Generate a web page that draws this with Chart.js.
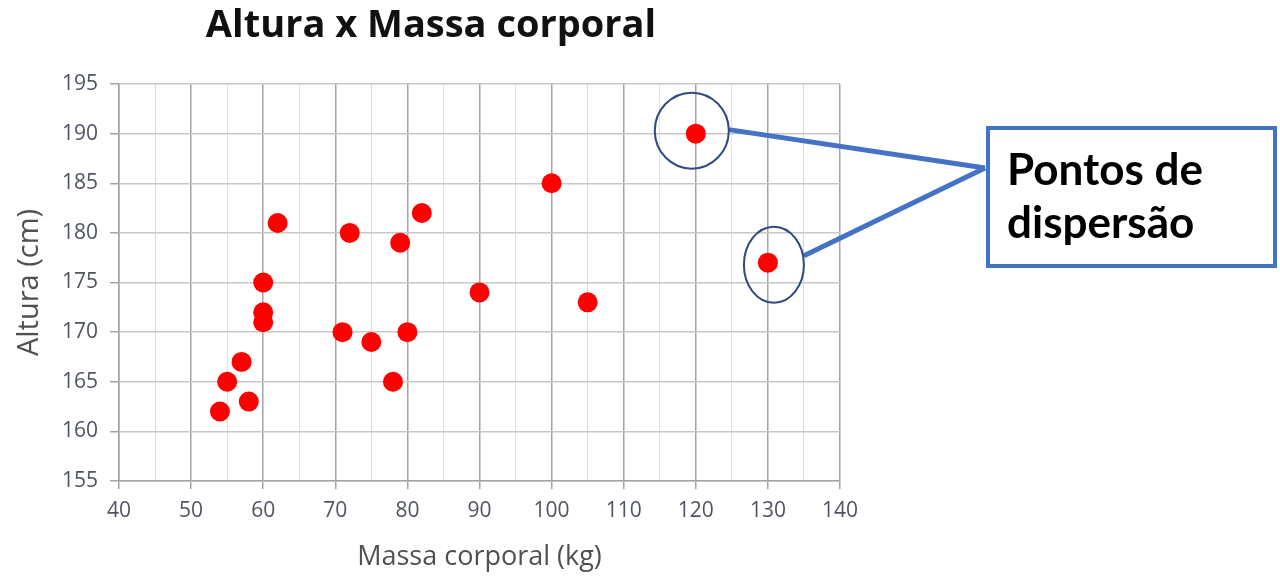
<!DOCTYPE html>
<html>
<head>
<meta charset="utf-8">
<script src="https://cdn.jsdelivr.net/npm/chart.js@4.4.1/dist/chart.umd.min.js"></script>
<style>
  html, body { margin: 0; padding: 0; background: #fff; }
  #wrap { width: 1280px; height: 578px; position: relative; }
</style>
</head>
<body>
<div id="wrap"><canvas id="scatter"></canvas></div>
<script>
// massa corporal (kg) e altura (cm)
const massa = [54, 55, 57, 58, 60, 60, 60, 62, 71, 72, 75, 78, 79, 80, 82, 90, 100, 105, 120, 130];
const altura = [162, 165, 167, 163, 171, 172, 175, 181, 170, 180, 169, 165, 179, 170, 182, 174, 185, 173, 190, 177];
const xTicks = [40, 50, 60, 70, 80, 90, 100, 110, 120, 130, 140];
const yTicks = [155, 160, 165, 170, 175, 180, 185, 190, 195];
// pontos destacados na anotação
const destaque = [18, 19];
const chartTitle = "Altura x Massa corporal";
const boxText = ["Pontos de", "dispersão"];

const points = massa.map((m, i) => ({ x: m, y: altura[i] }));

const vGridColor = ctx => {
    const v = ctx.tick ? ctx.tick.value : 0;
    if (v % 10 === 0) return "#a4a4a4";
    if (v % 30 === 15) return "#f2d0d0";
    return "#e2e2e2";
};

const annotation = {
    id: "annotation",
    afterDraw(chart) {
        const ctx = chart.ctx;
        const xs = chart.scales.x, ys = chart.scales.y;
        ctx.save();

        // título
        ctx.fillStyle = "#111";
        ctx.font = "bold 38px 'Open Sans'";
        ctx.textAlign = "center";
        ctx.textBaseline = "alphabetic";
        ctx.fillText(chartTitle, 431, 37);

        // caixa de texto
        const bx = 988, by = 128, bw = 287, bh = 138;
        const ax = 985, ay = 168;

        // linhas de ligação
        ctx.strokeStyle = "#4472C4";
        ctx.lineWidth = 5;
        const p1 = { x: xs.getPixelForValue(massa[destaque[0]]), y: ys.getPixelForValue(altura[destaque[0]]) };
        const p2 = { x: xs.getPixelForValue(massa[destaque[1]]), y: ys.getPixelForValue(altura[destaque[1]]) };
        ctx.beginPath();
        ctx.moveTo(p1.x + 33, p1.y - 4);
        ctx.lineTo(ax, ay);
        ctx.moveTo(p2.x + 36, p2.y - 7);
        ctx.lineTo(ax, ay);
        ctx.stroke();

        // elipses
        ctx.strokeStyle = "#2F4A7E";
        ctx.lineWidth = 2;
        ctx.beginPath();
        ctx.ellipse(p1.x - 4, p1.y - 3, 37, 38, 0, 0, Math.PI * 2);
        ctx.stroke();
        ctx.beginPath();
        ctx.ellipse(p2.x + 6, p2.y + 2, 30, 38, 0, 0, Math.PI * 2);
        ctx.stroke();

        ctx.fillStyle = "#fff";
        ctx.fillRect(bx, by, bw, bh);
        ctx.strokeStyle = "#4472C4";
        ctx.lineWidth = 4;
        ctx.strokeRect(bx, by, bw, bh);

        ctx.fillStyle = "#000";
        ctx.font = "bold 44px Lato";
        ctx.textAlign = "left";
        ctx.textBaseline = "alphabetic";
        ctx.fillText(boxText[0], 1007, 185);
        ctx.fillText(boxText[1], 1007, 238);
        ctx.restore();
    }
};

new Chart(document.getElementById("scatter"), {
    type: "scatter",
    data: {
        datasets: [{
            label: "Altura",
            data: points,
            backgroundColor: "#ff0000",
            borderColor: "#ff0000",
            borderWidth: 0,
            pointRadius: 10,
            pointHoverRadius: 10,
        }],
    },
    options: {
        responsive: true,
        maintainAspectRatio: false,
        animation: false,
        layout: {
            padding: { left: 0, right: 440, top: 84, bottom: 0 },
        },
        plugins: {
            legend: { display: false },
            title: { display: false },
            tooltip: { enabled: false },
        },
        scales: {
            x: {
                type: "linear",
                min: xTicks[0],
                max: xTicks[xTicks.length - 1],
                afterFit: s => { s.height = 97; },
                ticks: {
                    stepSize: 5,
                    autoSkip: false,
                    maxRotation: 0,
                    padding: 9,
                    color: "#4f5560",
                    font: { family: "Open Sans", size: 21 },
                    callback: v => (xTicks.includes(v) ? v : ""),
                },
                grid: {
                    color: vGridColor,
                    lineWidth: ctx => (ctx.tick && ctx.tick.value % 10 === 0 ? 1.5 : 1),
                    tickLength: 8,
                    tickColor: ctx => (ctx.tick && ctx.tick.value % 10 === 0 ? "#a4a4a4" : "rgba(0,0,0,0)"),
                },
                border: { color: "#a4a4a4", width: 1.5 },
                title: {
                    display: true,
                    text: "Massa corporal (kg)",
                    color: "#505050",
                    font: { family: "Open Sans", size: 27 },
                    padding: { top: 4, bottom: 4 },
                },
            },
            y: {
                type: "linear",
                min: yTicks[0],
                max: yTicks[yTicks.length - 1],
                afterFit: s => { s.width = 119; },
                ticks: {
                    stepSize: 5,
                    autoSkip: false,
                    padding: 12,
                    color: "#4f5560",
                    font: { family: "Open Sans", size: 21 },
                },
                grid: {
                    color: "#c8c8c8",
                    lineWidth: 1.5,
                    tickLength: 9,
                    tickColor: "#a4a4a4",
                },
                border: { color: "#a4a4a4", width: 1.5 },
                title: {
                    display: true,
                    text: "Altura (cm)",
                    color: "#505050",
                    font: { family: "Open Sans", size: 29 },
                    padding: { top: 12, bottom: 0 },
                },
            },
        },
    },
    plugins: [annotation],
});
</script>
</body>
</html>
